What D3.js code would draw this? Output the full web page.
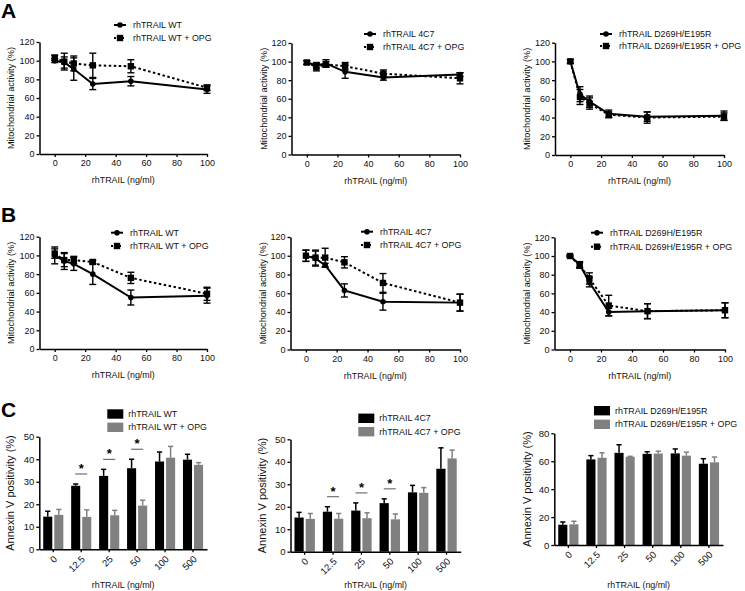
<!DOCTYPE html>
<html><head><meta charset="utf-8">
<script src="https://cdn.jsdelivr.net/npm/d3@7"></script>
<style>
html,body{margin:0;padding:0;background:#fff;}
svg{display:block;font-family:"Liberation Sans",Arial,sans-serif;}
</style></head>
<body>
<svg id="chart" width="745" height="591"></svg>
<script>
// ---------- DATA ----------
const doses = [0, 6.25, 12.5, 25, 50, 100];
const lineXTicks = [0, 20, 40, 60, 80, 100];
const lineYTicks = [0, 20, 40, 60, 80, 100, 120];

// Panel A (mitochondrial activity)
const aWT = [100, 98, 91, 75, 78, 69];
const aWTErr = [2, 6, 12, 6, 5, 4];
const aWTOpg = [103, 99, 97, 95, 94, 71];
const aWTOpgErr = [3, 9, 8, 13, 7, 3];
const a4C7 = [99, 96, 98, 89, 83, 86];
const a4C7Err = [2, 3, 4, 7, 3, 2];
const a4C7Opg = [99, 94, 97, 95, 87, 82];
const a4C7OpgErr = [2, 4, 3, 4, 4, 6];
const aDR = [100, 65, 57, 44, 41, 42];
const aDRErr = [2, 8, 6, 4, 5, 5];
const aDROpg = [100, 62, 55, 43, 40, 41];
const aDROpgErr = [2, 8, 6, 3, 6, 4];

// Panel B (mitochondrial activity)
const bWT = [100, 94, 91, 80, 55, 57];
const bWTErr = [9, 9, 7, 11, 8, 8];
const bWTOpg = [102, 95, 95, 93, 76, 59];
const bWTOpgErr = [5, 7, 4, 2, 6, 7];
const b4C7 = [100, 97, 90, 63, 51, 50];
const b4C7Err = [6, 8, 2, 7, 9, 9];
const b4C7Opg = [100, 98, 98, 93, 71, 50];
const b4C7OpgErr = [6, 8, 10, 6, 10, 9];
const bDR = [100, 91, 72, 40, 41, 42];
const bDRErr = [1, 3, 5, 4, 8, 8];
const bDROpg = [100, 90, 76, 47, 41, 42];
const bDROpgErr = [1, 3, 6, 11, 8, 8];

// Panel C (Annexin V positivity)
const barCats = ["0", "12.5", "25", "50", "100", "500"];
const cWT = [14.5, 28.2, 32.6, 36.0, 39.0, 39.8];
const cWTErr = [2.4, 0.8, 2.9, 4.0, 4.2, 2.4];
const cWTOpg = [15.3, 14.4, 15.1, 19.4, 40.7, 37.5];
const cWTOpgErr = [2.4, 3.1, 2.2, 2.4, 5.0, 1.0];
const c4C7 = [15.2, 17.8, 18.3, 21.6, 26.4, 36.9];
const c4C7Err = [2.3, 2.2, 3.4, 1.9, 3.1, 9.3];
const c4C7Opg = [14.6, 14.7, 14.9, 14.4, 26.2, 41.5];
const c4C7OpgErr = [2.4, 2.3, 2.4, 2.4, 2.3, 3.7];
const cDR = [14.5, 61.3, 66.0, 65.3, 65.6, 58.2];
const cDRErr = [2.0, 2.7, 5.8, 1.5, 3.2, 3.6];
const cDROpg = [14.8, 62.5, 63.2, 65.5, 64.0, 59.2];
const cDROpgErr = [2.2, 3.5, 0.3, 1.7, 2.5, 3.8];
const cSigWT = ["12.5", "25", "50"];
const cSig4C7 = ["12.5", "25", "50"];
const cDRSig = [];
const barYTicks50 = [0, 10, 20, 30, 40, 50];
const barYTicks80 = [0, 20, 40, 60, 80];

const names = {
  wt: "rhTRAIL WT", c47: "rhTRAIL 4C7", dr: "rhTRAIL D269H/E195R"
};
const opgSuffix = " + OPG";
const xTitle = "rhTRAIL (ng/ml)";
const yTitleLine = "Mitochondrial activity (%)";
const yTitleBar = "Annexin V positivity (%)";

// ---------- LAYOUT ----------
const svg = d3.select("#chart");
const TICK_FONT = 9;
const TITLE_FONT = 8.9;
const LEG_FONT = 8.9;
const INK = "#111";

function zip(x, v, e) { return x.map((d, i) => ({x: d, y: v[i], e: e[i]})); }

function styleAxis(a, fs) {
  a.select(".domain").attr("stroke", "#000").attr("stroke-width", 1.5);
  a.selectAll(".tick line").attr("stroke", "#000").attr("stroke-width", 1.3);
  a.selectAll("text").attr("font-size", fs).attr("fill", INK).attr("font-family", "Liberation Sans, Arial, sans-serif");
}

function lineChart(p) {
  const g = svg.append("g");
  const x = d3.scaleLinear().domain([-10, 100]).range([p.left, p.right]);
  const y = d3.scaleLinear().domain([0, 120]).range([p.bottom, p.top]);
  const ax = g.append("g").attr("transform", `translate(0,${p.bottom})`)
    .call(d3.axisBottom(x).tickValues(lineXTicks).tickSize(3).tickPadding(3).tickSizeOuter(0));
  const ay = g.append("g").attr("transform", `translate(${p.left},0)`)
    .call(d3.axisLeft(y).tickValues(lineYTicks).tickSize(3).tickPadding(2).tickSizeOuter(0));
  styleAxis(ax, TICK_FONT); styleAxis(ay, TICK_FONT);
  g.append("text").attr("x", (p.left + p.right) / 2).attr("y", p.bottom + 29)
    .attr("text-anchor", "middle").attr("font-size", TITLE_FONT).attr("fill", INK).text(xTitle);
  g.append("text").attr("transform", `translate(${p.ytx},${(p.top + p.bottom) / 2}) rotate(-90)`)
    .attr("text-anchor", "middle").attr("dy", "0.35em").attr("font-size", TITLE_FONT + 0.3).attr("fill", INK).text(yTitleLine);

  const series = [
    {d: zip(doses, p.v1, p.e1), dash: null, sym: "circle"},
    {d: zip(doses, p.v2, p.e2), dash: "2.5,2.5", sym: "square"}
  ];
  const line = d3.line().x(d => x(d.x)).y(d => y(d.y));
  series.forEach(s => {
    const eb = g.append("g");
    s.d.forEach(d => {
      eb.append("line").attr("x1", x(d.x)).attr("x2", x(d.x))
        .attr("y1", y(d.y - d.e)).attr("y2", y(d.y + d.e)).attr("stroke", "#000").attr("stroke-width", 1.4);
      [d.y - d.e, d.y + d.e].forEach(v => eb.append("line")
        .attr("x1", x(d.x) - 3.5).attr("x2", x(d.x) + 3.5)
        .attr("y1", y(v)).attr("y2", y(v)).attr("stroke", "#000").attr("stroke-width", 1.4));
    });
    g.append("path").datum(s.d).attr("d", line).attr("fill", "none")
      .attr("stroke", "#000").attr("stroke-width", 2)
      .attr("stroke-dasharray", s.dash);
    s.d.forEach(d => drawSym(g, s.sym, x(d.x), y(d.y)));
  });
  [p.name, p.name + opgSuffix].forEach((t, i) => {
    const ly = i === 0 ? p.ly1 : p.ly2;
    g.append("line").attr("x1", p.lx - 19).attr("x2", p.lx - 7).attr("y1", ly).attr("y2", ly)
      .attr("stroke", "#000").attr("stroke-width", 2).attr("stroke-dasharray", i === 0 ? null : "2,2");
    drawSym(g, i === 0 ? "circle" : "square", p.lx - 13, ly);
    g.append("text").attr("x", p.lx).attr("y", ly).attr("dy", "0.35em")
      .attr("font-size", LEG_FONT).attr("fill", INK).text(t);
  });
}

function drawSym(g, sym, cx, cy) {
  if (sym === "circle") g.append("circle").attr("cx", cx).attr("cy", cy).attr("r", 2.8).attr("fill", "#000");
  else g.append("rect").attr("x", cx - 3.2).attr("y", cy - 3.2).attr("width", 6.4).attr("height", 6.4).attr("fill", "#000");
}

function barChart(p) {
  const g = svg.append("g");
  const x = d3.scaleBand().domain(barCats).range([p.left, p.right]).paddingInner(0.28).paddingOuter(0.14);
  const y = d3.scaleLinear().domain([0, p.ymax]).range([p.bottom, p.top]);
  const bw = x.bandwidth() / 2 - 1;
  const series = [
    {v: p.v1, e: p.e1, fill: "#000", off: 0},
    {v: p.v2, e: p.e2, fill: "#808080", off: x.bandwidth() / 2 + 1}
  ];
  series.forEach(s => {
    barCats.forEach((c, i) => {
      const bx = x(c) + s.off;
      g.append("line").attr("x1", bx + bw / 2).attr("x2", bx + bw / 2)
        .attr("y1", y(s.v[i])).attr("y2", y(s.v[i] + s.e[i])).attr("stroke", s.fill).attr("stroke-width", 1.5);
      g.append("line").attr("x1", bx + bw / 2 - 2.6).attr("x2", bx + bw / 2 + 2.6)
        .attr("y1", y(s.v[i] + s.e[i])).attr("y2", y(s.v[i] + s.e[i])).attr("stroke", s.fill).attr("stroke-width", 1.5);
      g.append("rect").attr("x", bx).attr("y", y(s.v[i])).attr("width", bw)
        .attr("height", y(0) - y(s.v[i])).attr("fill", s.fill);
    });
  });
  p.sig.forEach(c => {
    const i = barCats.indexOf(c);
    const top = Math.max(p.v1[i] + p.e1[i], p.v2[i] + p.e2[i]);
    const ly = y(top) - 10;
    const cx = x(c) + x.bandwidth() / 2;
    g.append("line").attr("x1", cx - 6).attr("x2", cx + 6).attr("y1", ly).attr("y2", ly)
      .attr("stroke", "#555").attr("stroke-width", 1);
    g.append("text").attr("x", cx).attr("y", ly - 1).attr("text-anchor", "middle")
      .attr("font-size", 13).attr("font-weight", "bold").text("*");
  });
  const ax = g.append("g").attr("transform", `translate(0,${p.bottom})`)
    .call(d3.axisBottom(x).tickSize(3).tickSizeOuter(0));
  const ay = g.append("g").attr("transform", `translate(${p.left},0)`)
    .call(d3.axisLeft(y).tickValues(p.yticks).tickSize(3).tickPadding(2).tickSizeOuter(0));
  styleAxis(ax, TICK_FONT + 0.5); styleAxis(ay, TICK_FONT + 0.5);
  ax.selectAll("text").attr("text-anchor", "end").attr("dy", "0.35em").attr("y", 0)
    .attr("transform", "translate(2,8) rotate(-45)");
  g.append("text").attr("x", (p.left + p.right) / 2).attr("y", 588)
    .attr("text-anchor", "middle").attr("font-size", TITLE_FONT).attr("fill", INK).text(xTitle);
  g.append("text").attr("transform", `translate(${p.ytx},${(p.top + p.bottom) / 2}) rotate(-90)`)
    .attr("text-anchor", "middle").attr("dy", "0.35em").attr("font-size", 11).attr("fill", INK).text(yTitleBar);
  [p.name, p.name + opgSuffix].forEach((t, i) => {
    const ly = i === 0 ? p.ly1 : p.ly2;
    g.append("rect").attr("x", p.lx - 21).attr("y", ly - 4.7).attr("width", 16).attr("height", 9.4)
      .attr("fill", i === 0 ? "#000" : "#808080");
    g.append("text").attr("x", p.lx).attr("y", ly).attr("dy", "0.35em").attr("font-size", LEG_FONT).attr("fill", INK).text(t);
  });
}

// Panel letters
[["A", 18], ["B", 222], ["C", 417]].forEach(([t, yy]) =>
  svg.append("text").attr("x", 1).attr("y", yy).attr("font-size", 21).attr("font-weight", "bold").text(t));

lineChart({left: 39.5, right: 207, top: 42, bottom: 154, ytx: 11, name: names.wt, v1: aWT, e1: aWTErr, v2: aWTOpg, e2: aWTOpgErr, lx: 133, ly1: 25, ly2: 38});
lineChart({left: 291.5, right: 460, top: 43, bottom: 154.5, ytx: 264, name: names.c47, v1: a4C7, e1: a4C7Err, v2: a4C7Opg, e2: a4C7OpgErr, lx: 383, ly1: 34, ly2: 47});
lineChart({left: 555, right: 724, top: 42.7, bottom: 155, ytx: 527, name: names.dr, v1: aDR, e1: aDRErr, v2: aDROpg, e2: aDROpgErr, lx: 619, ly1: 34, ly2: 46});
lineChart({left: 39.5, right: 207, top: 236.7, bottom: 349, ytx: 11, name: names.wt, v1: bWT, e1: bWTErr, v2: bWTOpg, e2: bWTOpgErr, lx: 130, ly1: 232.7, ly2: 246});
lineChart({left: 290.5, right: 460, top: 237, bottom: 349.5, ytx: 263, name: names.c47, v1: b4C7, e1: b4C7Err, v2: b4C7Opg, e2: b4C7OpgErr, lx: 380, ly1: 231.7, ly2: 245});
lineChart({left: 554.5, right: 725, top: 237.3, bottom: 349.5, ytx: 527, name: names.dr, v1: bDR, e1: bDRErr, v2: bDROpg, e2: bDROpgErr, lx: 610, ly1: 232.7, ly2: 246.7});

barChart({left: 39.3, right: 207, top: 436.7, bottom: 549.3, ymax: 50, yticks: barYTicks50, ytx: 10, name: names.wt, v1: cWT, e1: cWTErr, v2: cWTOpg, e2: cWTOpgErr, sig: cSigWT, lx: 128.3, ly1: 414, ly2: 427.3});
barChart({left: 290.5, right: 460.7, top: 439.3, bottom: 551.7, ymax: 50, yticks: barYTicks50, ytx: 262, name: names.c47, v1: c4C7, e1: c4C7Err, v2: c4C7Opg, e2: c4C7OpgErr, sig: cSig4C7, lx: 379.3, ly1: 418.3, ly2: 431.7});
barChart({left: 554.3, right: 723, top: 433.3, bottom: 545, ymax: 80, yticks: barYTicks80, ytx: 527, name: names.dr, v1: cDR, e1: cDRErr, v2: cDROpg, e2: cDROpgErr, sig: cDRSig, lx: 615, ly1: 410.7, ly2: 424.3});
</script>
</body></html>
